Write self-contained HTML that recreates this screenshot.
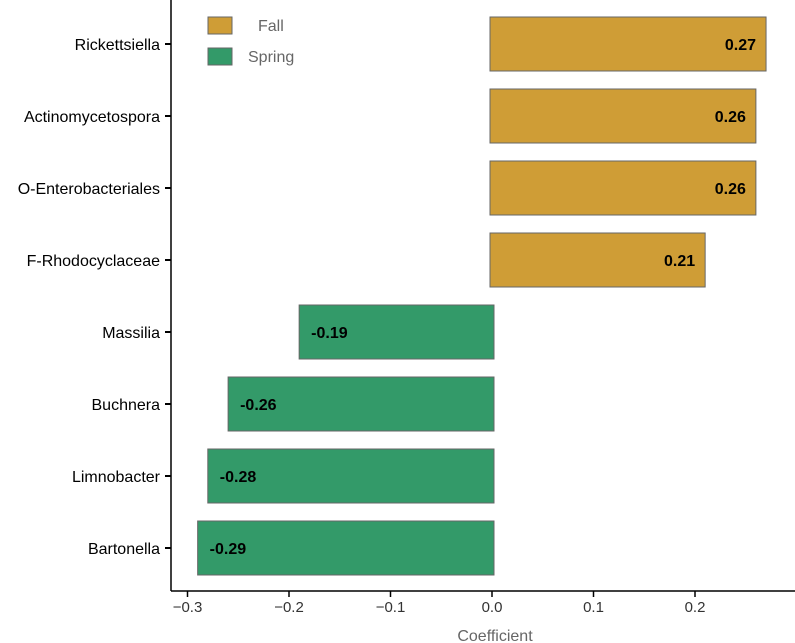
<!DOCTYPE html>
<html><head><meta charset="utf-8"><style>
body{margin:0;background:#fff;}
svg{display:block;font-family:"Liberation Sans",Arial,sans-serif;}
</style></head><body>
<svg width="795" height="643">
<g id="plot"></g>
</svg>
<script>
const categories=["Rickettsiella","Actinomycetospora","O-Enterobacteriales","F-Rhodocyclaceae","Massilia","Buchnera","Limnobacter","Bartonella"];
const values=[0.27,0.26,0.26,0.21,-0.19,-0.26,-0.28,-0.29];
const labels=["0.27","0.26","0.26","0.21","-0.19","-0.26","-0.28","-0.29"];
const ticks=[-0.3,-0.2,-0.1,0.0,0.1,0.2];
const tickLabels=["\u22120.3","\u22120.2","\u22120.1","0.0","0.1","0.2"];
const ns="http://www.w3.org/2000/svg";
const g=document.getElementById('plot');
const x=v=>492+v*1015;
const y=i=>44+i*72;
function el(t,a,txt){const e=document.createElementNS(ns,t);for(const k in a)e.setAttribute(k,a[k]);if(txt!==undefined)e.textContent=txt;g.appendChild(e);return e;}
categories.forEach((c,i)=>{
 const v=values[i];const fall=v>0;
 const z=fall?x(0)-2:x(0)+2;
 const x0=Math.min(z,x(v)),w=Math.abs(x(v)-z);
 const r=el('rect',{x:x0,y:y(i)-27,width:w,height:54,fill:fall?'#cf9d36':'#339a69',stroke:'#666','stroke-width':1});
 
 
 const t=el('text',{x:fall?x(v)-10:x(v)+12,y:y(i)+6,'text-anchor':fall?'end':'start','font-size':16,'font-weight':'bold',fill:'#000'},labels[i]);
 
 
 const l=el('text',{x:160,y:y(i)+6,'text-anchor':'end','font-size':16,fill:'#000'},c);
 
 
 el('line',{x1:165,x2:171,y1:y(i),y2:y(i),stroke:'#000','stroke-width':2});
});
el('line',{x1:171,x2:171,y1:0,y2:591,stroke:'#000','stroke-width':1.5});
el('line',{x1:171,x2:795,y1:591,y2:591,stroke:'#000','stroke-width':1.5});
ticks.forEach((v,i)=>{
 el('line',{x1:x(v),x2:x(v),y1:591,y2:597,stroke:'#000','stroke-width':1.5});
 const t=el('text',{x:x(v),y:612,'text-anchor':'middle','font-size':15,fill:'#333'},tickLabels[i]);
 
 
});
const xt=el('text',{x:495,y:641,'text-anchor':'middle','font-size':16,fill:'#666'},'Coefficient');


[['Fall','#cf9d36',17],['Spring','#339a69',48]].forEach(([n,c,yy])=>{
 const r=el('rect',{x:208,y:yy,width:24,height:17,fill:c,stroke:'#666'});
 
 
 const t=el('text',{x:n==='Fall'?258:248,y:yy+14,'font-size':16,fill:'#666'},n);
 
 
});
</script>
</body></html>
